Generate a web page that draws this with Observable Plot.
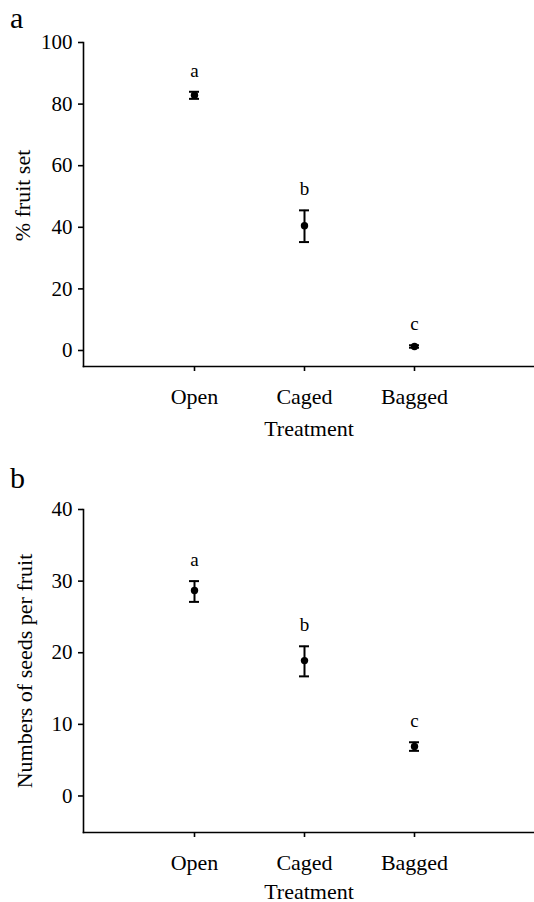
<!DOCTYPE html>
<html>
<head>
<meta charset="utf-8">
<script src="https://cdn.jsdelivr.net/npm/d3@7"></script>
<script src="https://cdn.jsdelivr.net/npm/@observablehq/plot@0.6"></script>
<style>
  html, body { margin: 0; padding: 0; background: #fff; }
  body { width: 534px; height: 902px; overflow: hidden; font-family: "Liberation Serif", "Times New Roman", serif; color: #000; }
  .panel { position: relative; width: 534px; }
  .tag { position: absolute; left: 10px; font-size: 30px; line-height: 1; }
  svg { display: block; }
</style>
</head>
<body>
<div class="panel" id="pa"><div class="tag" style="top:3px">a</div></div>
<div class="panel" id="pb"><div class="tag" style="top:13px">b</div></div>
<script>
// Data
const treatments = ["Open", "Caged", "Bagged"];
const groupLetters = ["a", "b", "c"];

// Panel a: % fruit set
const fruitSetMean = [82.9, 40.5, 1.3];
const fruitSetLow  = [81.7, 35.2, 0.9];
const fruitSetHigh = [84.0, 45.5, 1.7];
const fruitSetTicks = [0, 20, 40, 60, 80, 100];
const fruitSetDomain = [-5.2, 100];

// Panel b: seeds per fruit
const seedsMean = [28.7, 18.9, 6.9];
const seedsLow  = [27.1, 16.7, 6.3];
const seedsHigh = [30.0, 20.9, 7.5];
const seedsTicks = [0, 10, 20, 30, 40];
const seedsDomain = [-5.1, 40];

const xLabel = "Treatment";

function build(mean, lo, hi) {
  return treatments.map((t, i) => ({t, mean: mean[i], lo: lo[i], hi: hi[i], letter: groupLetters[i]}));
}

function panel({data, yDomain, yTicks, yLabel, height, marginTop, marginBottom, yLabelDx, yLabelDy, xLabelDy}) {
  const ink = "#000";
  return Plot.plot({
    width: 534,
    height,
    marginLeft: 83,
    marginRight: 0,
    marginTop,
    marginBottom,
    style: {fontFamily: '"Liberation Serif", "Times New Roman", serif', fontSize: "22px", color: ink, background: "#fff", overflow: "visible"},
    x: {type: "point", domain: treatments, padding: 1, insetRight: 10},
    y: {domain: yDomain},
    marks: [
      Plot.frame({anchor: "left", stroke: ink, strokeWidth: 1.6}),
      Plot.frame({anchor: "bottom", stroke: ink, strokeWidth: 1.6}),
      Plot.axisY({ticks: yTicks, tickSize: 5, tickPadding: 6, label: null, fontSize: 21, strokeWidth: 1.6}),
      Plot.axisX({tickSize: 5, tickPadding: 17, label: null, fontSize: 22, strokeWidth: 1.6}),
      Plot.ruleX(data, {x: "t", y1: "lo", y2: "hi", stroke: ink, strokeWidth: 2}),
      Plot.ruleY(data, {x1: "t", x2: "t", y: "lo", stroke: ink, strokeWidth: 2, insetLeft: -5, insetRight: -5}),
      Plot.ruleY(data, {x1: "t", x2: "t", y: "hi", stroke: ink, strokeWidth: 2, insetLeft: -5, insetRight: -5}),
      Plot.dot(data, {x: "t", y: "mean", r: 3.7, fill: ink, stroke: null}),
      Plot.text(data, {x: "t", y: "hi", text: "letter", fontSize: 19, lineAnchor: "bottom", dy: -15, fill: ink}),
      Plot.text([yLabel], {frameAnchor: "left", textAnchor: "middle", rotate: -90, dx: yLabelDx, dy: yLabelDy, lineAnchor: "middle", fontSize: 22, fill: ink}),
      Plot.text([xLabel], {frameAnchor: "bottom", dy: xLabelDy, lineAnchor: "middle", fontSize: 22, fill: ink})
    ]
  });
}

document.getElementById("pa").appendChild(panel({
  data: build(fruitSetMean, fruitSetLow, fruitSetHigh),
  yDomain: fruitSetDomain, yTicks: fruitSetTicks, yLabel: "% fruit set",
  height: 450, marginTop: 42, marginBottom: 84, yLabelDx: -61, yLabelDy: -9, xLabelDy: 62
}));
document.getElementById("pb").appendChild(panel({
  data: build(seedsMean, seedsLow, seedsHigh),
  yDomain: seedsDomain, yTicks: seedsTicks, yLabel: "Numbers of seeds per fruit",
  height: 452, marginTop: 59, marginBottom: 70, yLabelDx: -59, yLabelDy: 0, xLabelDy: 59
}));
</script>
</body>
</html>
